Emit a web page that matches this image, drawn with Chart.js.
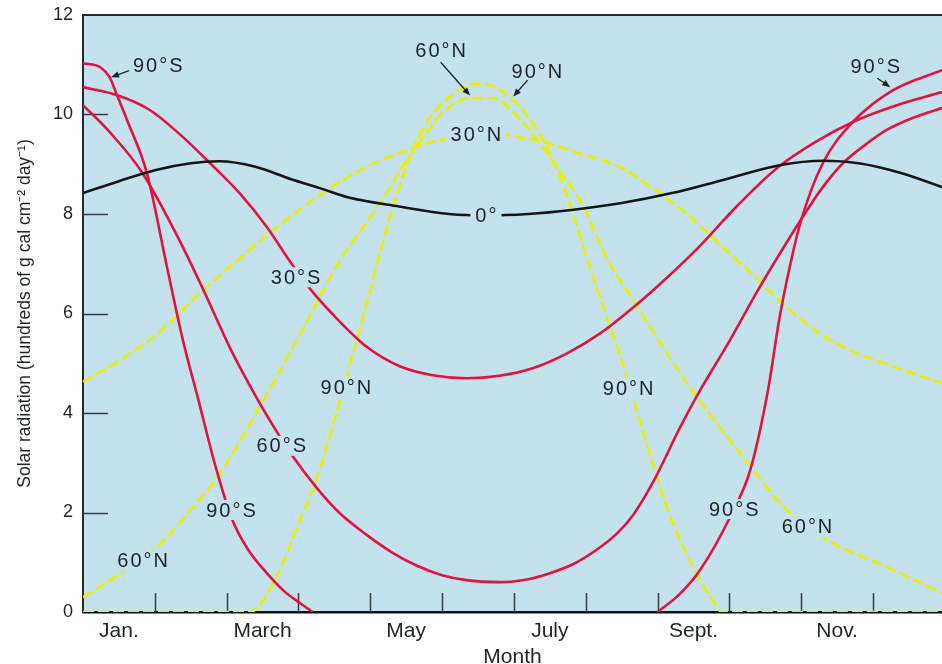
<!DOCTYPE html>
<html>
<head>
<meta charset="utf-8">
<title>Solar radiation by month and latitude</title>
<script src="https://cdn.jsdelivr.net/npm/chart.js@4.4.1/dist/chart.umd.min.js"></script>
<style>
  html, body { margin: 0; padding: 0; background: #ffffff; }
  #wrap { width: 942px; height: 664px; }
</style>
</head>
<body>
<div id="wrap"><canvas id="chart" width="942" height="664"></canvas></div>
<script>
// Month axis: 0 = 1 January, 12 = end of December.
const monthLabels = ['Jan.', 'March', 'May', 'July', 'Sept.', 'Nov.'];
const monthLabelAt = [0.5, 2.5, 4.5, 6.5, 8.5, 10.5];
const monthBoundaries = [1, 2, 3, 4, 5, 6, 7, 8, 9, 10, 11];
const radiationTicks = [0, 2, 4, 6, 8, 10, 12];

// Daily solar radiation, hundreds of g cal cm^-2 day^-1.
// Equator
const eqMonths = [0, 0.5, 1, 1.5, 1.9, 2.4, 2.9, 3.3, 3.7, 4.4, 5.1, 5.6, 6.2, 6.8, 7.5, 8.2, 8.9, 9.7, 10.3, 10.8, 11.4, 11.96];
const eqRad    = [8.42, 8.66, 8.88, 9.02, 9.06, 8.95, 8.70, 8.52, 8.33, 8.15, 8.0, 7.97, 8.0, 8.08, 8.22, 8.42, 8.68, 8.98, 9.07, 9.02, 8.82, 8.54];

// 30°S
const s30Months = [0, 0.47, 0.93, 1.35, 1.77, 2.18, 2.56, 2.88, 3.16, 3.48, 3.95, 4.41, 4.87, 5.34, 5.8, 6.26, 6.74, 7.2, 7.66, 8.13, 8.55, 9.1, 9.66, 10.2, 10.72, 11.3, 11.96];
const s30Rad    = [10.55, 10.39, 10.09, 9.6, 9.02, 8.42, 7.74, 7.05, 6.5, 5.98, 5.33, 4.94, 4.76, 4.70, 4.75, 4.90, 5.2, 5.6, 6.12, 6.72, 7.3, 8.15, 8.92, 9.45, 9.85, 10.17, 10.45];

// 60°S
const s60Months = [0, 0.37, 0.83, 1.35, 1.7, 2.05, 2.42, 2.7, 2.91, 3.28, 3.58, 3.95, 4.3, 4.65, 5.0, 5.34, 5.8, 6.2, 6.5, 6.85, 7.2, 7.45, 7.66, 7.94, 8.31, 8.55, 9.01, 9.35, 9.7, 9.98, 10.28, 10.58, 10.9, 11.19, 11.55, 11.96];
const s60Rad    = [10.19, 9.65, 8.82, 7.45, 6.4, 5.3, 4.3, 3.62, 3.15, 2.45, 1.98, 1.55, 1.2, 0.93, 0.74, 0.64, 0.6, 0.66, 0.78, 0.98, 1.3, 1.6, 1.95, 2.62, 3.7, 4.35, 5.47, 6.35, 7.2, 7.85, 8.5, 9.02, 9.4, 9.69, 9.93, 10.13];

// 90°S (no sunlight between the two zero points, so no line there)
const s90Months = [0, 0.24, 0.37, 0.47, 0.61, 0.89, 1.17, 1.39, 1.6, 1.86, 2.08, 2.3, 2.56, 2.8, 3.02, 3.2, 5.6, 8.0, 8.3, 8.59, 9.01, 9.29, 9.53, 9.7, 9.85, 10.0, 10.3, 10.72, 11.28, 11.96];
const s90Rad    = [11.03, 10.95, 10.75, 10.4, 9.9, 8.82, 6.93, 5.47, 4.3, 2.85, 1.85, 1.25, 0.78, 0.42, 0.18, 0, null, 0, 0.35, 0.84, 1.91, 2.85, 4.4, 5.93, 7.0, 7.88, 9.02, 9.85, 10.49, 10.89];

// 30°N
const n30Months = [0, 0.5, 1.0, 1.66, 2.32, 2.8, 3.26, 3.86, 4.45, 4.79, 5.25, 5.67, 6.0, 6.4, 6.88, 7.48, 7.95, 8.41, 8.87, 9.3, 9.7, 10.26, 10.7, 11.19, 11.96];
const n30Rad    = [4.63, 5.05, 5.55, 6.45, 7.28, 7.85, 8.34, 8.88, 9.25, 9.42, 9.56, 9.6, 9.56, 9.45, 9.23, 8.94, 8.5, 8.0, 7.38, 6.82, 6.25, 5.6, 5.25, 4.98, 4.6];

// 60°N
const n60Months = [0, 0.5, 1.03, 1.5, 1.91, 2.45, 2.98, 3.55, 4.13, 4.47, 4.79, 5.01, 5.39, 5.71, 6.04, 6.36, 6.64, 6.92, 7.3, 7.66, 8.41, 9.19, 9.8, 10.36, 11.2, 11.96];
const n60Rad    = [0.3, 0.75, 1.31, 2.05, 2.79, 4.1, 5.47, 7.0, 8.2, 9.0, 9.65, 10.05, 10.33, 10.33, 9.98, 9.43, 8.85, 8.28, 7.1, 6.27, 4.6, 3.12, 2.05, 1.45, 0.9, 0.38];

// 90°N
const n90Months = [0, 2.32, 2.74, 3.02, 3.2, 3.58, 3.76, 3.95, 4.15, 4.32, 4.55, 4.75, 4.93, 5.25, 5.5, 5.74, 5.98, 6.26, 6.46, 6.64, 6.8, 7.06, 7.3, 7.48, 7.66, 7.94, 8.17, 8.41, 8.59, 8.76, 8.9, 11.96];
const n90Rad    = [0, 0, 0.84, 1.85, 2.45, 4.26, 5.2, 6.2, 7.3, 8.15, 9.15, 9.75, 10.12, 10.5, 10.62, 10.55, 10.3, 9.83, 9.35, 8.75, 8.1, 6.93, 5.9, 5.15, 4.3, 2.95, 1.95, 1.15, 0.65, 0.25, 0, 0];

// Curve labels, anchored in axis units (month, radiation); some carry a pointer arrow.
const curveLabels = [
  { text: '90°S', at: [1.04, 10.98], arrow: [0.64, 10.88, 0.39, 10.75] },
  { text: '60°N', at: [4.98, 11.28], arrow: [4.98, 11.05, 5.39, 10.38] },
  { text: '90°N', at: [6.32, 10.87], arrow: [6.19, 10.69, 5.99, 10.36] },
  { text: '30°N', at: [5.47, 9.59] },
  { text: '0°',   at: [5.61, 7.98] },
  { text: '30°S', at: [2.96, 6.73] },
  { text: '60°S', at: [2.76, 3.34] },
  { text: '90°S', at: [2.06, 2.05] },
  { text: '60°N', at: [0.83, 1.03] },
  { text: '90°N', at: [3.66, 4.52] },
  { text: '90°N', at: [7.59, 4.50] },
  { text: '90°S', at: [9.06, 2.07] },
  { text: '60°N', at: [10.08, 1.71] },
  { text: '90°S', at: [11.03, 10.96], arrow: [11.06, 10.73, 11.24, 10.55] }
];

const PLOT_BG = '#c4e2ee';
const RED = '#e2143c';
const YELLOW = '#eeee00';
const BLACK = '#161616';
const INK = '#1e2326';
const FONT = '"Liberation Sans", Arial, Helvetica, sans-serif';

function points(months, values) {
  return months.map((m, i) => ({ x: m, y: values[i] }));
}

function curve(label, months, values, color, dashed) {
  return {
    label,
    data: points(months, values),
    borderColor: color,
    borderWidth: 2.6,
    borderDash: dashed ? [11, 4] : [],
    pointRadius: 0,
    fill: false,
    spanGaps: false,
    cubicInterpolationMode: 'monotone'
  };
}

// Light blue plotting field
const plotBackground = {
  id: 'plotBackground',
  beforeDraw(chart) {
    const { ctx, chartArea: a } = chart;
    ctx.save();
    ctx.fillStyle = PLOT_BG;
    ctx.fillRect(a.left, a.top, a.right - a.left, a.bottom - a.top);
    ctx.restore();
  }
};

// Inward tick marks and the top frame line
const innerTicks = {
  id: 'innerTicks',
  beforeDatasetsDraw(chart) {
    const { ctx, chartArea: a, scales: { x, y } } = chart;
    ctx.save();
    ctx.strokeStyle = '#3a3f42';
    ctx.lineWidth = 1.5;
    ctx.beginPath();
    monthBoundaries.forEach(m => {
      const px = Math.round(x.getPixelForValue(m)) + 0.5;
      ctx.moveTo(px, a.bottom);
      ctx.lineTo(px, a.bottom - 19);
    });
    radiationTicks.filter(v => v > 0 && v < 12).forEach(v => {
      const py = Math.round(y.getPixelForValue(v)) + 0.5;
      ctx.moveTo(a.left, py);
      ctx.lineTo(a.left + 25, py);
    });
    ctx.stroke();
    ctx.strokeStyle = '#262a2c';
    ctx.lineWidth = 2;
    ctx.beginPath();
    ctx.moveTo(a.left, a.top);
    ctx.lineTo(a.right, a.top);
    ctx.stroke();
    ctx.restore();
  }
};

// Latitude labels set into the curves, with pointer arrows where needed
const latitudeLabels = {
  id: 'latitudeLabels',
  afterDatasetsDraw(chart) {
    const { ctx, scales: { x, y } } = chart;
    ctx.save();
    ctx.font = '20px ' + FONT;
    if ('letterSpacing' in ctx) ctx.letterSpacing = '2px';
    ctx.textAlign = 'center';
    ctx.textBaseline = 'middle';
    curveLabels.forEach(l => {
      const cx = x.getPixelForValue(l.at[0]);
      const cy = y.getPixelForValue(l.at[1]);
      const w = ctx.measureText(l.text).width;
      ctx.fillStyle = PLOT_BG;
      ctx.fillRect(cx - w / 2 - 4, cy - 10, w + 8, 20);
      ctx.fillStyle = INK;
      ctx.fillText(l.text, cx + 1, cy + 1);
      if (l.arrow) {
        const x0 = x.getPixelForValue(l.arrow[0]), y0 = y.getPixelForValue(l.arrow[1]);
        const x1 = x.getPixelForValue(l.arrow[2]), y1 = y.getPixelForValue(l.arrow[3]);
        const ang = Math.atan2(y1 - y0, x1 - x0);
        const head = 8, half = 3.2;
        ctx.strokeStyle = INK;
        ctx.lineWidth = 1.3;
        ctx.beginPath();
        ctx.moveTo(x0, y0);
        ctx.lineTo(x1 - Math.cos(ang) * head * 0.8, y1 - Math.sin(ang) * head * 0.8);
        ctx.stroke();
        ctx.beginPath();
        ctx.moveTo(x1, y1);
        ctx.lineTo(x1 - Math.cos(ang) * head - Math.sin(ang) * half, y1 - Math.sin(ang) * head + Math.cos(ang) * half);
        ctx.lineTo(x1 - Math.cos(ang) * head + Math.sin(ang) * half, y1 - Math.sin(ang) * head - Math.cos(ang) * half);
        ctx.closePath();
        ctx.fillStyle = INK;
        ctx.fill();
      }
    });
    ctx.restore();
  }
};

new Chart(document.getElementById('chart'), {
  type: 'line',
  data: {
    datasets: [
      curve('0°', eqMonths, eqRad, BLACK, false),
      curve('30°S', s30Months, s30Rad, RED, false),
      curve('60°S', s60Months, s60Rad, RED, false),
      curve('90°S', s90Months, s90Rad, RED, false),
      curve('30°N', n30Months, n30Rad, YELLOW, true),
      curve('60°N', n60Months, n60Rad, YELLOW, true),
      curve('90°N', n90Months, n90Rad, YELLOW, true)
    ]
  },
  options: {
    responsive: false,
    animation: false,
    devicePixelRatio: 1,
    layout: { padding: { top: 15, left: 0, right: 0, bottom: 0 } },
    plugins: { legend: { display: false }, tooltip: { enabled: false } },
    scales: {
      x: {
        type: 'linear',
        min: 0,
        max: 11.96,
        grid: { display: false, drawTicks: false },
        border: { display: true, color: '#111111', width: 2.5 },
        afterBuildTicks: s => { s.ticks = monthLabelAt.map(v => ({ value: v })); },
        ticks: {
          autoSkip: false,
          maxRotation: 0,
          padding: 7,
          color: INK,
          font: { family: FONT, size: 21 },
          callback: (v, i) => monthLabels[i]
        },
        title: {
          display: true,
          text: 'Month',
          color: INK,
          font: { family: FONT, size: 21 },
          padding: { top: 0, bottom: -6 }
        },
        afterFit: s => { s.height = 52; s.paddingLeft = 0; s.paddingRight = 0; }
      },
      y: {
        min: 0,
        max: 12,
        grid: { display: false, drawTicks: false },
        border: { display: true, color: '#262a2c', width: 2 },
        afterBuildTicks: s => { s.ticks = radiationTicks.map(v => ({ value: v })); },
        ticks: {
          padding: 10,
          color: INK,
          font: { family: FONT, size: 18 }
        },
        title: {
          display: true,
          text: 'Solar radiation (hundreds of g cal cm⁻² day⁻¹)',
          color: INK,
          font: { family: FONT, size: 17.5 },
          padding: { top: 15, bottom: 0 }
        },
        afterFit: s => { s.width = 83; s.paddingTop = 0; s.paddingBottom = 0; }
      }
    }
  },
  plugins: [plotBackground, innerTicks, latitudeLabels]
});
</script>
</body>
</html>
